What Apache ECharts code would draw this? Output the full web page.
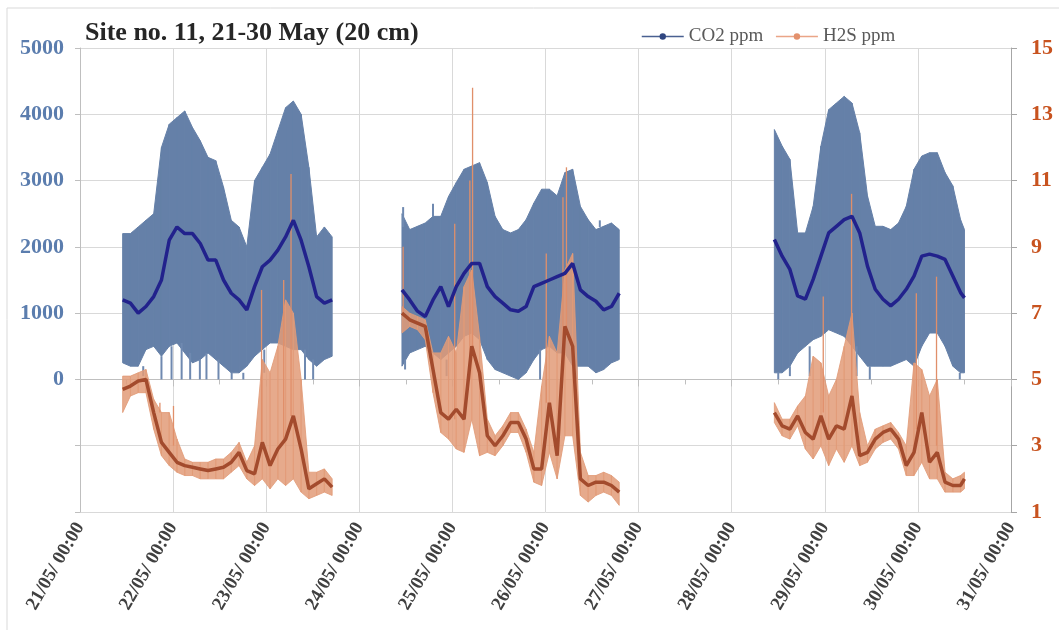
<!DOCTYPE html>
<html>
<head>
<meta charset="utf-8">
<script src="https://cdn.jsdelivr.net/npm/echarts@6/dist/echarts.min.js"></script>
<style>
  html, body { margin: 0; background: #fff; }
  #chart { width: 1059px; height: 630px; }
</style>
</head>
<body>
<div id="chart"></div>
<script>
// hours after 21/05 00:00 (null values at 74 and 160 break the line between logging periods)
const hours = [11,13,15,17,19,21,23,25,27,29,31,33,35,37,39,41,43,45,47,49,51,53,55,57,59,61,63,65,
  74,
  83,85,87,89,91,93,95,97,99,101,103,105,107,109,111,113,115,117,119,121,123,125,127,129,131,133,135,137,139,
  160,
  179,181,183,185,187,189,191,193,195,197,199,201,203,205,207,209,211,213,215,217,219,221,223,225,227,228];

// CO2 ppm: smoothed trace and the spread of the raw readings
const co2Mean = [1200,1150,1000,1100,1250,1500,2100,2300,2200,2200,2050,1800,1800,1500,1300,1200,1050,1400,1700,1800,1950,2150,2400,2100,1700,1250,1150,1200,
  null,
  1350,1200,1030,950,1200,1400,1100,1400,1600,1750,1750,1400,1250,1150,1050,1030,1100,1400,1450,1500,1550,1600,1750,1350,1250,1180,1050,1100,1300,
  null,
  2110,1860,1660,1260,1210,1510,1860,2210,2310,2410,2460,2210,1710,1360,1210,1110,1210,1360,1560,1860,1890,1860,1810,1560,1310,1230];
const co2High = [2200,2200,2300,2400,2500,3500,3850,3950,4050,3800,3600,3350,3300,2900,2400,2300,2000,3000,3200,3400,3750,4100,4200,4000,3200,2150,2300,2150,
  null,
  2500,2260,2310,2360,2460,2460,2760,2970,3170,3220,3270,2970,2460,2260,2210,2260,2410,2660,2870,2870,2770,3120,3170,2610,2410,2260,2310,2360,2260,
  null,
  3770,3520,3320,2210,2210,2610,3520,4070,4170,4270,4170,3720,2770,2310,2310,2260,2360,2610,3170,3370,3420,3420,3120,2920,2410,2260];
const co2Low = [250,200,200,450,500,350,500,550,400,250,300,400,300,200,100,100,200,350,450,550,550,500,450,450,300,200,300,350,
  null,
  200,400,450,500,400,300,400,500,650,700,600,300,150,100,50,0,100,300,450,500,400,400,200,200,200,100,150,250,300,
  null,
  100,100,200,400,500,600,650,750,700,650,500,350,200,200,200,200,250,300,200,500,700,700,500,200,100,100];

// single CO2 readings outside the spread: [hour, from, to]
const co2Spikes = [[16.3,200,50],[21.0,350,0],[23.6,500,0],[26.2,550,0],[28.4,400,0],[30.9,300,0],[32.6,400,0],
  [35.7,300,0],[39.1,100,0],[42.1,100,0],[47.5,450,100],[58.0,450,0],[60.1,300,0],
  [83.3,2300,2600],[83.8,300,150],[91.0,2460,2650],[94.5,300,50],[118.6,450,0],[128.0,200,0],[134.0,2300,2400],
  [180.0,100,0],[183.0,200,50],[188.1,500,50],[200.2,500,50],[203.6,200,0],[226.8,100,0]];

// H2S ppm: smoothed trace and the spread of the raw readings
const h2sMean = [4.7,4.8,4.95,5.0,4.0,3.1,2.8,2.5,2.4,2.35,2.3,2.25,2.3,2.35,2.5,2.8,2.25,2.15,3.1,2.4,2.9,3.2,3.9,2.9,1.7,1.85,2.0,1.75,
  null,
  7.0,6.8,6.7,6.6,5.3,4.0,3.8,4.1,3.8,6.0,5.2,3.3,3.0,3.3,3.7,3.7,3.2,2.3,2.3,4.3,2.7,6.6,6.0,2.0,1.8,1.9,1.9,1.8,1.6,
  null,
  4.0,3.6,3.5,3.9,3.4,3.2,3.9,3.2,3.6,3.5,4.5,2.7,2.8,3.2,3.4,3.5,3.2,2.4,2.8,4.0,2.5,2.8,1.9,1.8,1.8,2.0];
const h2sHigh = [5.1,5.1,5.2,5.3,4.4,4.0,4.0,3.2,2.6,2.5,2.5,2.5,2.6,2.6,2.8,3.1,2.5,3.0,5.6,5.2,6.0,7.4,7.0,5.0,2.2,2.2,2.3,2.0,
  null,
  7.2,7.0,6.9,6.8,5.8,5.8,6.3,5.8,7.8,8.3,6.3,3.8,3.3,3.6,4.0,4.0,3.5,2.8,4.8,6.3,5.8,8.3,8.8,2.8,2.1,2.1,2.2,2.1,1.9,
  null,
  4.3,3.8,3.8,4.2,4.5,5.7,5.5,4.5,5.0,6.0,7.0,4.0,3.0,3.5,3.6,3.7,3.4,3.0,5.5,5.3,4.5,5.0,2.2,2.0,2.1,2.2];
const h2sLow = [4.0,4.5,4.6,4.6,3.5,2.7,2.4,2.2,2.1,2.1,2.0,2.0,2.0,2.0,2.2,2.4,2.0,1.8,2.0,1.7,2.0,1.8,2.0,1.6,1.4,1.5,1.6,1.5,
  null,
  6.4,6.6,6.5,6.2,4.6,3.4,3.2,2.9,2.8,3.8,2.7,2.8,2.7,3.0,3.4,3.4,2.8,1.9,1.8,2.8,2.0,3.3,3.3,1.5,1.3,1.5,1.6,1.5,1.2,
  null,
  3.7,3.3,3.2,3.6,2.9,2.6,3.0,2.4,2.9,2.5,3.0,2.4,2.5,2.9,3.1,3.2,2.9,2.1,2.1,2.5,2.0,2.0,1.6,1.6,1.6,1.7];

// isolated H2S peaks: [hour, from, to]
const h2sSpikes = [[20.6,4.0,4.3],[24.1,3.0,4.2],[46.8,3.0,7.7],[52.5,3.2,8.0],[54.4,3.9,11.2],
  [83.3,7.0,9.0],[96.6,3.8,9.7],[100.5,5.0,11.0],[101.2,6.0,13.8],[120.2,4.3,8.8],[124.5,5.5,10.5],[125.4,6.5,11.4],
  [191.6,4.0,7.5],[198.9,4.5,10.6],[215.6,3.5,7.6],[220.8,3.0,8.1]];

const co2Ticks = [-2000, 5000, 1000];
const h2sTicks = [1, 15, 2];
const dayTicks = [0, 240, 24];

const pairs = arr => hours.map((h, i) => [h, arr[i]]);
// one quad per pair of neighbouring readings: [h0, lo0, hi0, h1, lo1, hi1]
const bandPieces = (hi, lo) => {
  const out = [];
  for (let i = 0; i < hours.length - 1; i++) {
    if (hi[i] == null || hi[i + 1] == null) continue;
    out.push([hours[i], lo[i], hi[i], hours[i + 1], lo[i + 1], hi[i + 1]]);
  }
  return out;
};
const bandRender = color => (params, api) => {
  const pts = [
    api.coord([api.value(0), api.value(2)]),
    api.coord([api.value(3), api.value(5)]),
    api.coord([api.value(3), api.value(4)]),
    api.coord([api.value(0), api.value(1)])
  ];
  return { type: 'polygon', shape: { points: pts }, style: { fill: color, stroke: color, lineWidth: 1 } };
};
const spikeRender = (color, width) => (params, api) => {
  const a = api.coord([api.value(0), api.value(1)]);
  const b = api.coord([api.value(0), api.value(2)]);
  return {
    type: 'line',
    shape: { x1: a[0], y1: a[1], x2: b[0], y2: b[1] },
    style: { stroke: color, lineWidth: width }
  };
};

const serif = '"Liberation Serif", "DejaVu Serif", serif';

const chart = echarts.init(document.getElementById('chart'));
chart.setOption({
  animation: false,
  backgroundColor: '#fff',
  graphic: [{
    type: 'rect', silent: true,
    shape: { x: 7, y: 8, width: 1100, height: 700 },
    style: { fill: 'none', stroke: '#d9d9d9', lineWidth: 1 }
  }],
  title: {
    text: 'Site no. 11, 21-30 May (20 cm)',
    left: 80, top: 15,
    textStyle: { fontFamily: serif, fontSize: 26, fontWeight: 'bold', color: '#262626' }
  },
  legend: {
    left: 636, top: 22,
    itemWidth: 42, itemHeight: 8, itemGap: 12,
    textStyle: { fontFamily: serif, fontSize: 19, color: '#595959' },
    data: [
      { name: 'CO2 ppm', itemStyle: { color: '#2f4680' }, lineStyle: { color: '#4a6091', width: 1.5 } },
      { name: 'H2S ppm', itemStyle: { color: '#e3916d' }, lineStyle: { color: '#eaa587', width: 1.5 } }
    ]
  },
  grid: { left: 80, right: 48, top: 48, bottom: 118 },
  xAxis: {
    type: 'value', min: dayTicks[0], max: dayTicks[1], interval: dayTicks[2],
    axisLine: { lineStyle: { color: '#bfbfbf' } },
    axisTick: { length: 7, lineStyle: { color: '#bfbfbf' } },
    minorTick: { show: true, splitNumber: 2, length: 5, lineStyle: { color: '#bfbfbf' } },
    splitLine: { show: true, lineStyle: { color: '#d9d9d9' } },
    axisLabel: {
      rotate: 60, margin: 12,
      fontFamily: serif, fontSize: 19, fontWeight: 'bold', color: '#404040',
      formatter: v => (21 + v / 24) + '/05/ 00:00'
    }
  },
  yAxis: [{
    type: 'value', min: co2Ticks[0], max: co2Ticks[1], interval: co2Ticks[2],
    axisLine: { show: true, lineStyle: { color: '#bfbfbf' } },
    axisTick: { show: true, length: 5, lineStyle: { color: '#bfbfbf' } },
    splitLine: { lineStyle: { color: '#d9d9d9' } },
    axisLabel: {
      margin: 16, fontFamily: serif, fontSize: 22, fontWeight: 'bold', color: '#5b7dae',
      formatter: v => v < 0 ? '' : v
    }
  }, {
    type: 'value', min: h2sTicks[0], max: h2sTicks[1], interval: h2sTicks[2],
    position: 'right',
    axisLine: { show: true, lineStyle: { color: '#a6a6a6' } },
    axisTick: { show: true, length: 6, lineStyle: { color: '#a6a6a6' } },
    splitLine: { show: false },
    axisLabel: { margin: 20, fontFamily: serif, fontSize: 22, fontWeight: 'bold', color: '#c8531f' }
  }],
  series: [
    {
      name: 'co2 raw', type: 'custom', data: bandPieces(co2High, co2Low), silent: true,
      encode: { x: [0, 3], y: [1, 2, 4, 5] },
      renderItem: bandRender('#6580a8')
    },
    {
      name: 'co2 outliers', type: 'custom', data: co2Spikes, silent: true,
      encode: { x: 0, y: [1, 2] },
      renderItem: spikeRender('#6f89b0', 2)
    },
    {
      name: 'CO2 ppm', type: 'line', data: pairs(co2Mean),
      symbol: 'circle', symbolSize: 4, showSymbol: false,
      itemStyle: { color: '#2f4680' },
      lineStyle: { color: '#22228c', width: 3.5 }
    },
    {
      name: 'h2s raw', type: 'custom', yAxisIndex: 1, data: bandPieces(h2sHigh, h2sLow), silent: true,
      encode: { x: [0, 3], y: [1, 2, 4, 5] },
      renderItem: bandRender('rgba(226,155,120,0.85)')
    },
    {
      name: 'h2s peaks', type: 'custom', yAxisIndex: 1, data: h2sSpikes, silent: true,
      encode: { x: 0, y: [1, 2] },
      renderItem: spikeRender('#e08f6a', 1.3)
    },
    {
      name: 'H2S ppm', type: 'line', yAxisIndex: 1, data: pairs(h2sMean),
      symbol: 'circle', symbolSize: 4, showSymbol: false,
      itemStyle: { color: '#e3916d' },
      lineStyle: { color: '#a34b2d', width: 3.5 }
    }
  ]
});
</script>
</body>
</html>
